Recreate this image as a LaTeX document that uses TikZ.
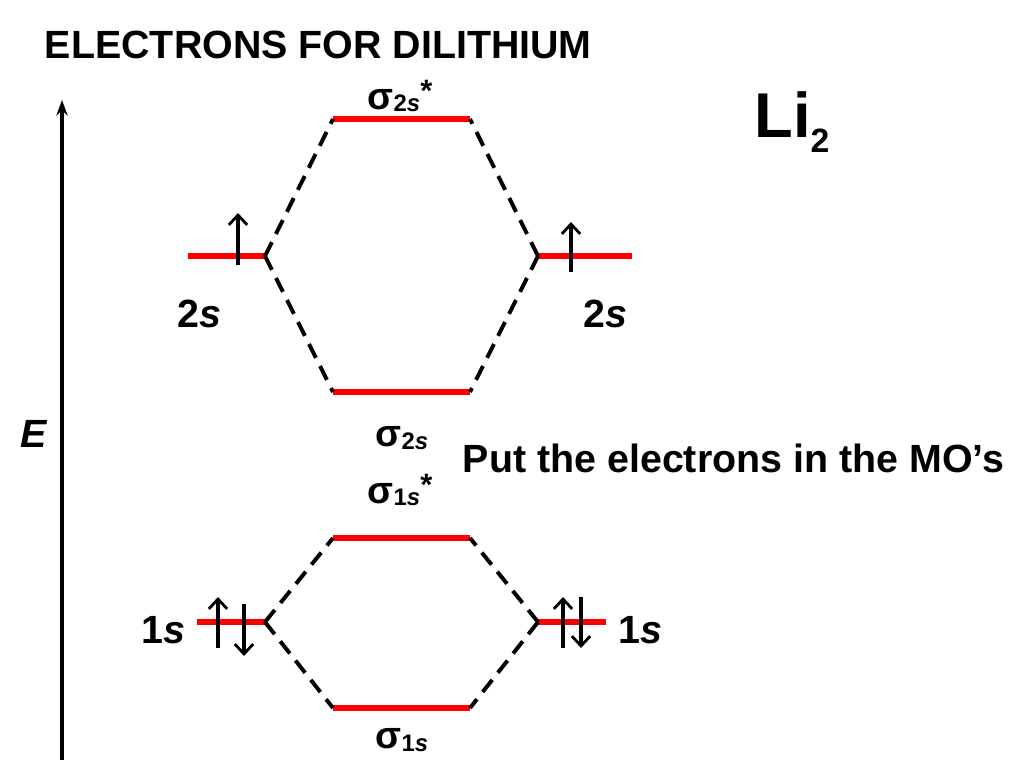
\documentclass[tikz,border=0pt]{standalone}
\usepackage{fontspec}
\setmainfont{Liberation Sans}
\usetikzlibrary{arrows.meta}

\newcommand{\orb}[2]{{\fontsize{27}{30}\selectfont\bfseries σ}\raisebox{-0.3ex}{\fontsize{17}{19}\selectfont\bfseries #1\textit{s}}#2}
\newcommand{\starup}{\raisebox{1.0ex}{\fontsize{22}{22}\selectfont\bfseries *}}

\begin{document}
\begin{tikzpicture}[x=0.025cm,y=-0.025cm,
  level/.style={red,line width=3.8pt},
  mix/.style={line width=2.8pt,dash pattern=on 11pt off 6.5pt},
  spin/.style={-{Straight Barb[length=7pt,width=13pt,line width=2pt]},line width=2.2pt},
  big/.style={font=\fontsize{28}{33}\selectfont\bfseries}]
\useasboundingbox (0,0) rectangle (1024,768);

\node[big,anchor=west] (title) at (40,45) {ELECTRONS FOR DILITHIUM};
\node[font=\fontsize{45}{52}\selectfont\bfseries] (mol) at (792,122) {Li\raisebox{-0.45ex}{\fontsize{24}{28}\selectfont 2}};

% energy axis
\coordinate (Elow) at (62,760);
\coordinate (Ehigh) at (62,100);
\draw[line width=2.8pt,-{Stealth[length=11pt,width=8pt]}] (Elow) -- (Ehigh);
\node[big] (E) at (34,434) {\textit{E}};

% 2s levels
\coordinate (L2a) at (188,256); \coordinate (L2b) at (265,256);
\coordinate (R2a) at (538,256); \coordinate (R2b) at (632,256);
\coordinate (S2a) at (333,392); \coordinate (S2b) at (470,392);
\coordinate (X2a) at (333,119); \coordinate (X2b) at (470,119);
\draw[level] (L2a) -- (L2b);
\draw[level] (R2a) -- (R2b);
\draw[level] (S2a) -- (S2b);
\draw[level] (X2a) -- (X2b);
\draw[mix] (L2b) -- (X2a) (L2b) -- (S2a);
\draw[mix] (R2a) -- (X2b) (R2a) -- (S2b);
\draw[spin] (238,265) -- (238,213);
\draw[spin] (571,272) -- (571,222);
\node[big] (l2s) at (199,314) {2\textit{s}};
\node[big] (r2s) at (605,314) {2\textit{s}};
\node (x2s) at (400,96) {\orb{2}{\starup}};
\node (s2s) at (402,438) {\orb{2}{}};

% 1s levels
\coordinate (L1a) at (197,622); \coordinate (L1b) at (265,622);
\coordinate (R1a) at (538,622); \coordinate (R1b) at (606,622);
\coordinate (S1a) at (333,708); \coordinate (S1b) at (470,708);
\coordinate (X1a) at (333,538); \coordinate (X1b) at (470,538);
\draw[level] (L1a) -- (L1b);
\draw[level] (R1a) -- (R1b);
\draw[level] (S1a) -- (S1b);
\draw[level] (X1a) -- (X1b);
\draw[mix] (L1b) -- (X1a) (L1b) -- (S1a);
\draw[mix] (R1a) -- (X1b) (R1a) -- (S1b);
\draw[spin] (218,648) -- (218,597);
\draw[spin] (244,604) -- (244,656);
\draw[spin] (563,648) -- (563,597);
\draw[spin] (581,597) -- (581,648);
\node[big] (l1s) at (163,630) {1\textit{s}};
\node[big] (r1s) at (640,630) {1\textit{s}};
\node (x1s) at (400,490) {\orb{1}{\starup}};
\node (s1s) at (402,740) {\orb{1}{}};

\node[font=\fontsize{28}{33}\selectfont\bfseries,anchor=west] (hint) at (458,458) {Put the electrons in the MO’s};
\end{tikzpicture}
\end{document}
